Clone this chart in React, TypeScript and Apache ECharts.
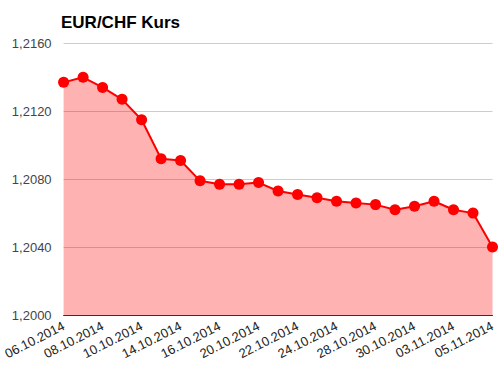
import React, { useEffect, useRef } from "react";
import * as echarts from "echarts";

const dates = [
  "06.10.2014", "07.10.2014", "08.10.2014", "09.10.2014", "10.10.2014",
  "13.10.2014", "14.10.2014", "15.10.2014", "16.10.2014", "17.10.2014",
  "20.10.2014", "21.10.2014", "22.10.2014", "23.10.2014", "24.10.2014",
  "27.10.2014", "28.10.2014", "29.10.2014", "30.10.2014", "31.10.2014",
  "03.11.2014", "04.11.2014", "05.11.2014",
];
const rates = [
  1.2137, 1.2140, 1.2134, 1.2127, 1.2115,
  1.2092, 1.2091, 1.2079, 1.2077, 1.2077,
  1.2078, 1.2073, 1.2071, 1.2069, 1.2067,
  1.2066, 1.2065, 1.2062, 1.2064, 1.2067,
  1.2062, 1.2060, 1.2040,
];
const yMin = 1.2;
const yMax = 1.216;
const yStep = 0.004;

export default function App() {
  const ref = useRef<HTMLDivElement>(null);
  useEffect(() => {
    if (!ref.current) return;
    const chart = echarts.init(ref.current, null, { renderer: "svg" });
    chart.setOption({
      animation: false,
      title: {
        text: "EUR/CHF Kurs",
        left: 56,
        top: 9,
        textStyle: { fontFamily: "Liberation Sans, Arial", fontSize: 17, fontWeight: "bold", color: "#000" },
      },
      grid: { left: 61.5, right: 8.5, top: 43.3, bottom: 56 },
      xAxis: {
        type: "category",
        data: dates,
        boundaryGap: false,
        axisLine: { show: true, lineStyle: { color: "#333", width: 1 } },
        axisTick: { show: false },
        axisLabel: {
          interval: 1,
          rotate: 27,
          color: "#222",
          fontFamily: "Liberation Sans, Arial",
          fontSize: 13,
          margin: 10,
        },
        splitLine: { show: false },
      },
      yAxis: {
        type: "value",
        min: yMin,
        max: yMax,
        interval: yStep,
        axisLine: { show: false },
        axisTick: { show: false },
        axisLabel: {
          color: "#444",
          fontFamily: "Liberation Sans, Arial",
          fontSize: 13,
          margin: 12,
          formatter: (v: number) => v.toFixed(4).replace(".", ","),
        },
        splitLine: { lineStyle: { color: "#cccccc", width: 1 } },
      },
      series: [
        {
          type: "line",
          data: rates,
          symbol: "circle",
          symbolSize: 11,
          lineStyle: { color: "#ff0000", width: 2 },
          itemStyle: { color: "#ff0000" },
          areaStyle: { color: "#ff0000", opacity: 0.3, origin: "start" },
        },
      ],
    });
    return () => chart.dispose();
  }, []);
  return <div ref={ref} style={{ width: 501, height: 371, position: "absolute", left: 0, top: 0 }} />;
}
